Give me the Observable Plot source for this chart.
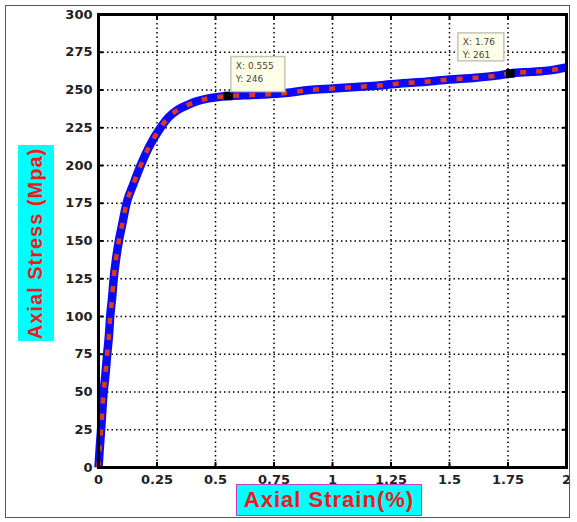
<!DOCTYPE html>
<html>
<head>
<meta charset="utf-8">
<script src="https://cdn.jsdelivr.net/npm/d3@7"></script>
<script src="https://cdn.jsdelivr.net/npm/@observablehq/plot@0.6"></script>
<style>
  html, body { margin: 0; padding: 0; background: #fff; }
  #wrap { position: relative; width: 577px; height: 522px; overflow: hidden; }
  #border { position: absolute; left: 5px; top: 5px; width: 565px; height: 513px; border: 1.5px solid #555; box-sizing: border-box; pointer-events: none; }
  .lbl { position: absolute; background: #00ffff; color: #f01818; font-family: "Liberation Sans", Arial, sans-serif; font-weight: bold; display: flex; align-items: center; justify-content: center; white-space: nowrap; }
  #xlab { left: 236px; top: 484px; width: 186px; height: 32px; border: 1.5px solid #c83cc8; box-sizing: border-box; font-size: 22px; letter-spacing: 1px; }
  #ylab { left: 18px; top: 145px; width: 36px; height: 196px; }
  #ylab span { transform: rotate(-90deg); font-size: 20px; letter-spacing: 1px; display: inline-block; }
</style>
</head>
<body>
<div id="wrap">
  <div id="chart"></div>
  <div id="ylab" class="lbl"><span>Axial Stress (Mpa)</span></div>
  <div id="xlab" class="lbl">Axial Strain(%)</div>
  <div id="border"></div>
</div>
<script>
// Data
const strain = [0, 0.005, 0.011, 0.022, 0.03, 0.037, 0.045, 0.05, 0.058, 0.065, 0.075, 0.087, 0.1, 0.12, 0.15, 0.18, 0.215, 0.265, 0.3, 0.34, 0.38, 0.42, 0.47, 0.52, 0.555, 0.62, 0.7, 0.8, 0.9, 1.0, 1.1, 1.2, 1.3, 1.4, 1.5, 1.6, 1.7, 1.76, 1.85, 1.93, 2.0];
const stress = [0, 12, 25, 50, 62, 75, 88, 100, 112, 125, 138, 150, 160, 175, 188, 200, 212, 225, 232, 237, 240, 242.5, 244.5, 245.5, 246, 246.5, 247, 248, 250, 251, 252, 253, 254.5, 255.5, 257, 258, 259.5, 261, 262, 263, 265];
const xTicks = [0, 0.25, 0.5, 0.75, 1, 1.25, 1.5, 1.75, 2];
const yTicks = [0, 25, 50, 75, 100, 125, 150, 175, 200, 225, 250, 275, 300];
const tipX = [0.555, 1.76];
const tipY = [246, 261];

const pts = strain.map((s, i) => ({x: s, y: stress[i]}));
const tickFont = {fontSize: 13, fontWeight: "bold", fontFamily: "DejaVu Sans, sans-serif", fill: "#222"};

const plot = Plot.plot({
  width: 577,
  height: 522,
  marginLeft: 98,
  marginRight: 11,
  marginTop: 14,
  marginBottom: 55,
  style: {background: "transparent", overflow: "visible"},
  x: {domain: [0, 2]},
  y: {domain: [0, 300]},
  marks: [
    Plot.gridX(xTicks, {stroke: "#000", strokeOpacity: 1, strokeWidth: 1.5, strokeDasharray: "1.5,3"}),
    Plot.gridY(yTicks, {stroke: "#000", strokeOpacity: 1, strokeWidth: 1.5, strokeDasharray: "1.5,3"}),
    Plot.axisX({ticks: xTicks, tickSize: 0, tickPadding: 7, tickFormat: d => String(d), label: null, ...tickFont}),
    Plot.axisY({ticks: yTicks, tickSize: 0, tickPadding: 6, tickFormat: d => String(d), label: null, ...tickFont}),
    Plot.axisX({ticks: xTicks, anchor: "bottom", tickSize: -5, tickFormat: () => "", label: null, strokeWidth: 2}),
    Plot.axisX({ticks: xTicks, anchor: "top", tickSize: -5, tickFormat: () => "", label: null, strokeWidth: 2}),
    Plot.axisY({ticks: yTicks, anchor: "left", tickSize: -5, tickFormat: () => "", label: null, strokeWidth: 2}),
    Plot.axisY({ticks: yTicks, anchor: "right", tickSize: -5, tickFormat: () => "", label: null, strokeWidth: 2}),
    Plot.line(pts, {x: "x", y: "y", stroke: "#0a0af5", strokeWidth: 8.5, strokeLinejoin: "round", strokeLinecap: "butt", curve: "monotone-x"}),
    Plot.line(pts, {x: "x", y: "y", stroke: "#e0381a", strokeWidth: 4.5, strokeDasharray: "6,10", strokeLinecap: "butt", curve: "monotone-x"}),
    Plot.frame({stroke: "#000", strokeWidth: 3}),
    Plot.dot(tipX.map((x, i) => ({x, y: tipY[i]})), {x: "x", y: "y", symbol: "square", r: 4, fill: "#000", stroke: "#000"})
  ]
});
document.getElementById("chart").appendChild(plot);

// Data tips positioned from the plot's scales
const sx = plot.scale("x"), sy = plot.scale("y");
const svg = d3.select(plot);
const boxes = [
  {dx: 3, dy: -39, w: 54, h: 35},
  {dx: -52, dy: -40, w: 46, h: 28}
];
tipX.forEach((x, i) => {
  const px = sx.apply(x), py = sy.apply(tipY[i]);
  const b = boxes[i];
  const g = svg.append("g").attr("transform", `translate(${px + b.dx},${py + b.dy})`)
    .attr("text-anchor", "start");
  g.append("rect").attr("width", b.w).attr("height", b.h)
    .attr("fill", "#ffffe8").attr("stroke", "#c4c4bc").attr("stroke-width", 1.5);
  g.append("text").attr("x", 5).attr("y", 12).text(`X: ${x}`)
    .attr("font-size", 9).attr("font-family", "DejaVu Sans, sans-serif").attr("fill", "#444");
  g.append("text").attr("x", 5).attr("y", 25).text(`Y: ${tipY[i]}`)
    .attr("font-size", 9).attr("font-family", "DejaVu Sans, sans-serif").attr("fill", "#444");
});
</script>
</body>
</html>
